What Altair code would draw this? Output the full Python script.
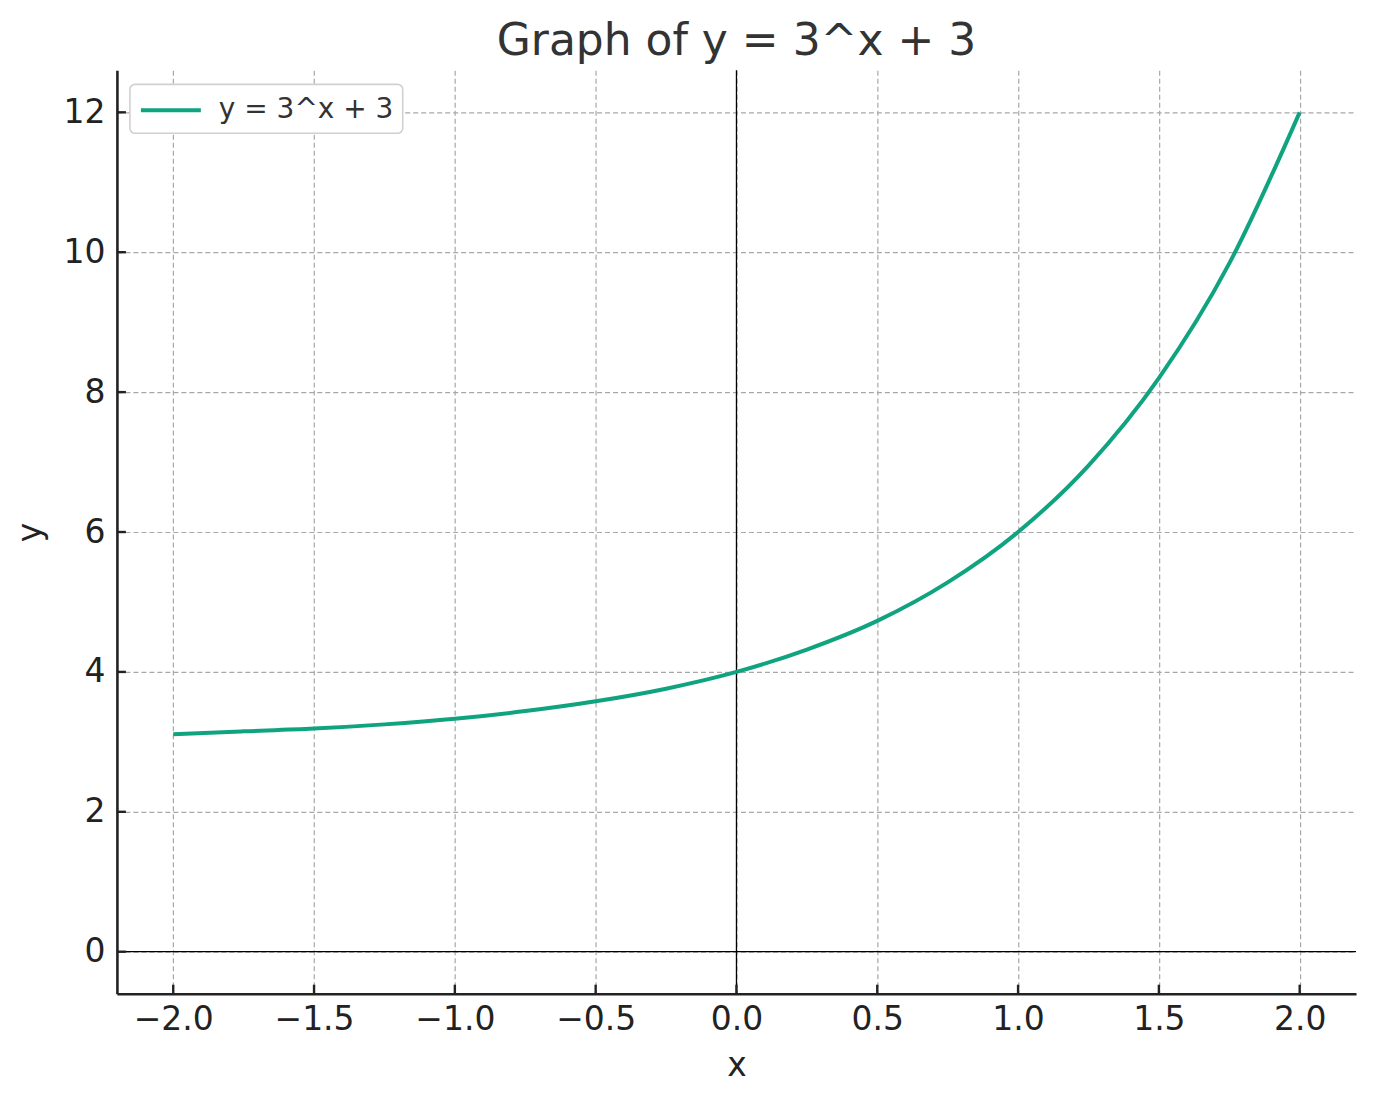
import altair as alt
import pandas as pd

# values
x_vals = [-2.0, -1.75, -1.5, -1.25, -1.0, -0.75, -0.5, -0.25, 0.0,
          0.25, 0.5, 0.75, 1.0, 1.25, 1.5, 1.75, 2.0]
y_vals = [3.11, 3.15, 3.19, 3.25, 3.33, 3.44, 3.58, 3.76, 4.0,
          4.32, 4.73, 5.28, 6.0, 6.95, 8.2, 9.84, 12.0]
series_name = "y = 3^x + 3"
x_ticks = [-2.0, -1.5, -1.0, -0.5, 0.0, 0.5, 1.0, 1.5, 2.0]
y_ticks = [0, 2, 4, 6, 8, 10, 12]
ref_x = [0.0]
ref_y = [0.0]

FONT = "DejaVu Sans"
GREEN = "#10a37f"
W, H = 1240, 924

curve = pd.DataFrame({"x": x_vals, "y": y_vals, "s": [series_name] * len(x_vals)})
xt = pd.DataFrame({"v": x_ticks})
yt = pd.DataFrame({"v": y_ticks})

xs = alt.Scale(domain=[-2.2, 2.2], nice=False, zero=False)
ys = alt.Scale(domain=[-0.6, 12.6], nice=False, zero=False)

grid_common = dict(gridColor="#a8a8a8", gridDash=[5, 3], gridWidth=1.2,
                   domainColor="#222222", domainWidth=2.6, ticks=False,
                   labelFont=FONT, labelFontSize=33, labelColor="#222222",
                   titleFont=FONT, titleFontSize=33, titleFontWeight="normal",
                   titleColor="#222222")

x_axis = alt.Axis(values=x_ticks, format=".1f", labelPadding=10, title="x",
                  titlePadding=13, **grid_common)
y_axis = alt.Axis(values=y_ticks, format="d", labelPadding=12, title="y",
                  titlePadding=15, **grid_common)

base = alt.Chart(curve).mark_line(strokeWidth=4, interpolate="monotone").encode(
    x=alt.X("x:Q", scale=xs, axis=x_axis),
    y=alt.Y("y:Q", scale=ys, axis=y_axis),
    color=alt.Color("s:N", scale=alt.Scale(domain=[series_name], range=[GREEN]),
                    legend=alt.Legend(title=None, orient="none", legendX=13, legendY=14,
                                      symbolType="M-1,0H3", symbolSize=900,
                                      symbolStrokeWidth=4, labelFont=FONT,
                                      labelFontSize=28, labelColor="#333333",
                                      labelOffset=46, labelLimit=500, padding=9,
                                      strokeColor="#d0d0d0", cornerRadius=5,
                                      fillColor="white")),
)

hline = alt.Chart(pd.DataFrame({"y": ref_y})).mark_rule(color="black", strokeWidth=1.3).encode(
    y=alt.Y("y:Q", scale=ys))
vline = alt.Chart(pd.DataFrame({"x": ref_x})).mark_rule(color="black", strokeWidth=1.3).encode(
    x=alt.X("x:Q", scale=xs))

xtick_marks = alt.Chart(xt).mark_rule(color="#222222", strokeWidth=2.4).encode(
    x=alt.X("v:Q", scale=xs), y=alt.value(H - 9), y2=alt.value(H))
ytick_marks = alt.Chart(yt).mark_rule(color="#222222", strokeWidth=2.4).encode(
    y=alt.Y("v:Q", scale=ys), x=alt.value(0), x2=alt.value(9))

chart = alt.layer(hline, vline, xtick_marks, ytick_marks, base).properties(
    width=W, height=H,
    title=alt.TitleParams("Graph of y = 3^x + 3", font=FONT, fontSize=44,
                          fontWeight="normal", color="#333333", anchor="middle",
                          offset=6),
    padding={"left": 109, "top": 62, "right": 12, "bottom": 110},
    autosize=alt.AutoSizeParams(type="none"),
).configure_view(stroke=None).configure_legend(strokeWidth=1.6)

chart.save("out.html", embed_options={"renderer": "svg", "actions": False})
